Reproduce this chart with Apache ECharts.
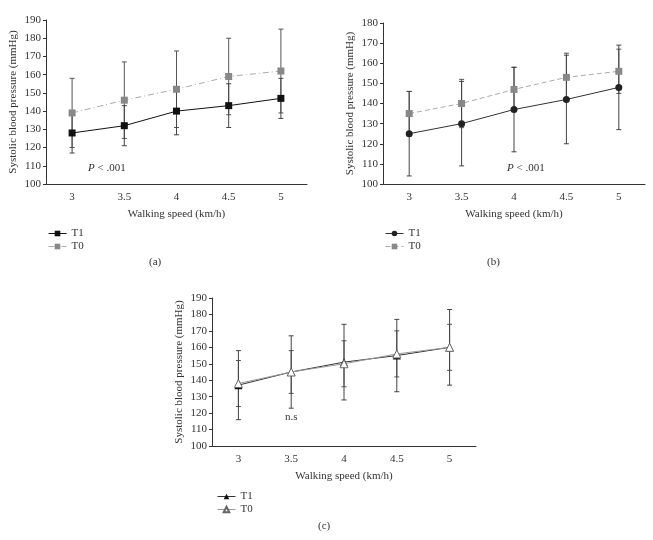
<!DOCTYPE html>
<html>
<head>
<meta charset="utf-8">
<script src="https://cdn.jsdelivr.net/npm/echarts@6/dist/echarts.min.js"></script>
<style>
html,body{margin:0;padding:0;background:#fff;}
#wrap{position:relative;width:653px;height:540px;}
.pane{position:absolute;}
</style>
</head>
<body>
<div id="wrap">
  <div id="ca" class="pane" style="left:0;top:0;width:330px;height:280px;"></div>
  <div id="cb" class="pane" style="left:330px;top:0;width:323px;height:280px;"></div>
  <div id="cc" class="pane" style="left:160px;top:280px;width:340px;height:260px;"></div>
</div>
<script>
// ---- data ----
const speeds = ['3', '3.5', '4', '4.5', '5'];

// Panel (a)
const aT1 = [128, 132, 140, 143, 147];
const aT1sd = [11, 11, 13, 12, 11];
const aT0 = [139, 146, 152, 159, 162];
const aT0sd = [19, 21, 21, 21, 23];

// Panel (b)
const bT1 = [125, 130, 137, 142, 148];
const bT1sd = [21, 21, 21, 22, 21];
const bT0 = [135, 140, 147, 153, 156];
const bT0sd = [11, 12, 11, 12, 11];

// Panel (c)
const cT1 = [137, 145, 151, 155, 160];
const cT1sd = [21, 22, 23, 22, 23];
const cT0 = [138, 145, 150, 156, 160];
const cT0sd = [14, 13, 14, 14, 14];

const aTicks = {min: 100, max: 190, interval: 10};
const bTicks = {min: 100, max: 180, interval: 10};
const cTicks = {min: 100, max: 190, interval: 10};

// ---- helpers ----
const FONT = '"Liberation Serif", "DejaVu Serif", serif';
const TXT = '#333';

function errSeries(means, sds, color) {
  return {
    type: 'custom',
    silent: true,
    z: 1,
    encode: {x: 0, y: [1, 2]},
    data: means.map((m, i) => [i, m - sds[i], m + sds[i]]),
    renderItem: function (params, api) {
      const x = api.value(0);
      const lo = api.coord([x, api.value(1)]);
      const hi = api.coord([x, api.value(2)]);
      const w = 2.5;
      const st = {stroke: color, lineWidth: 1};
      return {
        type: 'group',
        children: [
          {type: 'line', shape: {x1: lo[0], y1: lo[1], x2: hi[0], y2: hi[1]}, style: st},
          {type: 'line', shape: {x1: lo[0] - w, y1: lo[1], x2: lo[0] + w, y2: lo[1]}, style: st},
          {type: 'line', shape: {x1: hi[0] - w, y1: hi[1], x2: hi[0] + w, y2: hi[1]}, style: st}
        ]
      };
    }
  };
}

function makeOption(cfg) {
  return {
    animation: false,
    textStyle: {fontFamily: FONT, color: TXT},
    grid: Object.assign({outerBoundsMode: 'none', containLabel: false}, cfg.grid),
    legend: {
      data: ['T1', 'T0'],
      orient: 'vertical',
      left: cfg.legendLeft,
      top: cfg.legendTop,
      itemWidth: 18,
      itemHeight: 7,
      itemGap: 2,
      lineStyle: {width: 1},
      textStyle: {fontFamily: FONT, fontSize: 11, color: TXT},
      selectedMode: false
    },
    xAxis: {
      type: 'category',
      data: speeds,
      boundaryGap: true,
      name: 'Walking speed (km/h)',
      nameLocation: 'middle',
      nameGap: 25,
      nameMoveOverlap: false,
      nameTextStyle: {fontFamily: FONT, fontSize: 11, color: TXT},
      axisLine: {lineStyle: {color: '#333', width: 1}},
      axisTick: {show: false},
      axisLabel: {fontFamily: FONT, fontSize: 11, color: TXT, margin: 8},
      splitLine: {show: false}
    },
    yAxis: {
      type: 'value',
      min: cfg.ticks.min,
      max: cfg.ticks.max,
      interval: cfg.ticks.interval,
      name: 'Systolic blood pressure (mmHg)',
      nameLocation: 'middle',
      nameGap: 27,
      nameMoveOverlap: false,
      nameTextStyle: {fontFamily: FONT, fontSize: 11, color: TXT},
      axisLine: {show: true, lineStyle: {color: '#333', width: 1}},
      axisTick: {show: true, length: 3, lineStyle: {color: '#333'}},
      axisLabel: {fontFamily: FONT, fontSize: 11, color: TXT, margin: 5},
      splitLine: {show: false}
    },
    graphic: cfg.graphic,
    series: [
      errSeries(cfg.t0, cfg.t0sd, '#555'),
      errSeries(cfg.t1, cfg.t1sd, '#444'),
      Object.assign({
        name: 'T0', type: 'line', data: cfg.t0, z: cfg.t0z || 3,
      }, cfg.t0style),
      Object.assign({
        name: 'T1', type: 'line', data: cfg.t1, z: 4,
      }, cfg.t1style)
    ]
  };
}

function pText(x, y) {
  return {
    type: 'text', left: x, top: y,
    style: {
      text: '{i|P} < .001',
      font: '11px ' + FONT,
      fill: TXT,
      rich: {i: {fontStyle: 'italic', fontFamily: FONT, fontSize: 11, fill: TXT}}
    }
  };
}
function caption(t, x, y) {
  return {type: 'text', left: x, top: y, style: {text: t, font: '11px ' + FONT, fill: TXT}};
}

// ---- panel (a) ----
echarts.init(document.getElementById('ca'), null, {renderer: 'canvas'}).setOption(makeOption({
  grid: {left: 46, right: 23, top: 20, bottom: 96},
  ticks: aTicks,
  legendLeft: 43, legendTop: 223,
  t1: aT1, t1sd: aT1sd, t0: aT0, t0sd: aT0sd,
  t1style: {
    symbol: 'rect', symbolSize: 7,
    itemStyle: {color: '#111'},
    lineStyle: {color: '#111', width: 1}
  },
  t0style: {
    symbol: 'rect', symbolSize: 7,
    itemStyle: {color: '#888'},
    lineStyle: {color: '#aaa', width: 1, type: [6, 3, 1, 3]}
  },
  graphic: [pText(88, 163), caption('(a)', 149, 257)]
}));

// ---- panel (b) ----
echarts.init(document.getElementById('cb'), null, {renderer: 'canvas'}).setOption(makeOption({
  grid: {left: 53, right: 8, top: 23, bottom: 96},
  ticks: bTicks,
  legendLeft: 50, legendTop: 223,
  t1: bT1, t1sd: bT1sd, t0: bT0, t0sd: bT0sd,
  t1style: {
    symbol: 'circle', symbolSize: 7,
    itemStyle: {color: '#222'},
    lineStyle: {color: '#333', width: 1}
  },
  t0style: {
    symbol: 'rect', symbolSize: 7,
    itemStyle: {color: '#888'},
    lineStyle: {color: '#aaa', width: 1, type: [5, 3]}
  },
  graphic: [pText(177, 163), caption('(b)', 157, 257)]
}));

// ---- panel (c) ----
echarts.init(document.getElementById('cc'), null, {renderer: 'canvas'}).setOption(makeOption({
  grid: {left: 52, right: 24, top: 18, bottom: 94},
  ticks: cTicks,
  legendLeft: 52, legendTop: 206,
  t1: cT1, t1sd: cT1sd, t0: cT0, t0sd: cT0sd,
  t0z: 5,
  t1style: {
    symbol: 'triangle', symbolSize: 8,
    itemStyle: {color: '#111'},
    lineStyle: {color: '#333', width: 1}
  },
  t0style: {
    symbol: 'triangle', symbolSize: 8,
    itemStyle: {color: '#fff', borderColor: '#666', borderWidth: 1},
    lineStyle: {color: '#999', width: 1}
  },
  graphic: [
    {type: 'text', left: 125, top: 132, style: {text: 'n.s', font: '11px ' + FONT, fill: TXT}},
    caption('(c)', 158, 241)
  ]
}));
</script>
</body>
</html>
